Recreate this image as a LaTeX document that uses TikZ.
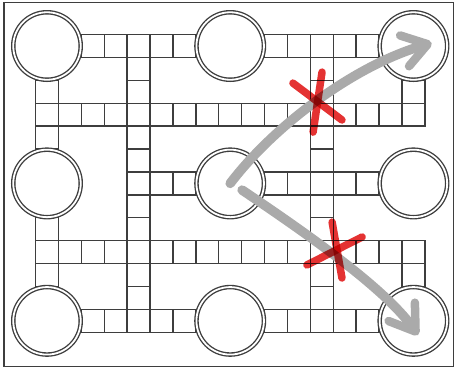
\documentclass[tikz,border=0pt]{standalone}
\usepackage{tikz}
\usetikzlibrary{arrows.meta}
\definecolor{track}{RGB}{62,62,62}
\definecolor{chalk}{RGB}{170,170,170}
\definecolor{marker}{RGB}{228,50,50}

\begin{document}
\begin{tikzpicture}[x=22.9pt, y=-22.9pt,
    cell/.style={draw=track, line width=1.35pt},
    station/.style={circle, draw=track, fill=white, line width=1.35pt, double=white, double distance=1.8pt, minimum size=67.5pt, inner sep=0pt},
    move/.style={draw=chalk, line width=9.5pt, line cap=round, -{Straight Barb[length=24pt, width=32pt, line width=8.5pt, round]}},
    cross/.style={draw=marker, line width=7.5pt, line cap=round, blend mode=multiply}]

  \useasboundingbox (-2.052,-2.009) rectangle (17.86,14.1);
  \draw[track, line width=1.6pt] (-1.878,-1.9) rectangle (17.751,13.996);

  \foreach \i in {0,...,16} {
    \draw[cell] (\i-0.5,2.5) rectangle ++(1,1);
    \draw[cell] (\i-0.5,8.5) rectangle ++(1,1);
  }
  \foreach \i in {2,3,4,5,6,10,11,12,13,14} {
    \draw[cell] (\i-0.5,-0.5) rectangle ++(1,1);
    \draw[cell] (\i-0.5,11.5) rectangle ++(1,1);
  }
  \foreach \i in {4,12}
    \foreach \j in {1,...,11}
      \draw[cell] (\i-0.5,\j-0.5) rectangle ++(1,1);
  \foreach \i/\j in {0/2,0/4,0/8,0/10,16/2,16/10,5/6,6/6,10/6,11/6,13/6,14/6}
    \draw[cell] (\i-0.5,\j-0.5) rectangle ++(1,1);

  \foreach \i/\c in {0/l,1/m,2/r}
    \foreach \j/\r in {0/t,1/m,2/b}
      \node[station] (\r\c) at (8*\i,6*\j) {};

  \draw[move] (mm.center) .. controls (9.9,3.5) and (13.4,0.85) .. ([shift={(0.8,-0.13)}]tr.center);
  \draw[move] ([shift={(0.52,0.29)}]mm.center) .. controls (11.12,8.04) and (14.75,10.55) .. ([shift={(0.2,0.62)}]br.center);

  \draw[cross] (10.74,1.62) -- (12.88,3.23);
  \draw[cross] (12.01,1.14) -- (11.62,3.76);
  \draw[cross] (11.35,9.56) -- (13.76,8.34);
  \draw[cross] (12.45,7.69) -- (12.88,10.13);
\end{tikzpicture}
\end{document}
